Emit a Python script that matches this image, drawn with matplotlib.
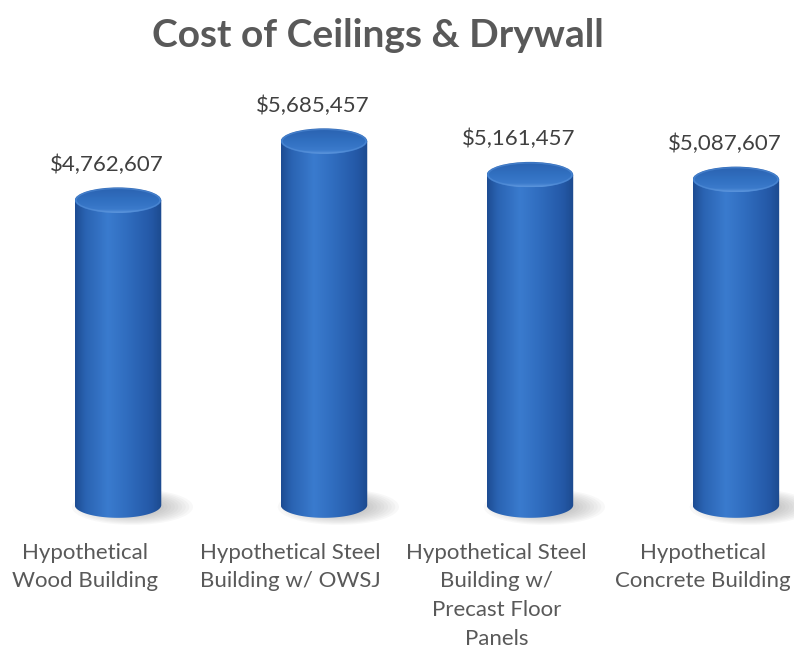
import numpy as np
import matplotlib.pyplot as plt
from matplotlib.path import Path
from matplotlib.patches import PathPatch, Ellipse
from matplotlib.colors import LinearSegmentedColormap

categories = ["Hypothetical\nWood Building",
              "Hypothetical Steel\nBuilding w/ OWSJ",
              "Hypothetical Steel\nBuilding w/\nPrecast Floor\nPanels",
              "Hypothetical\nConcrete Building"]
costs = [4762607, 5685457, 5161457, 5087607]
value_labels = ["$4,762,607", "$5,685,457", "$5,161,457", "$5,087,607"]

plt.rcParams['font.family'] = ['Lato', 'DejaVu Sans']
grey = '#595959'

side_cmap = LinearSegmentedColormap.from_list(
    'side', [(0.0, '#1d4c92'), (0.12, '#2a63b2'), (0.38, '#3a7bce'),
             (0.6, '#306dbf'), (0.88, '#2458a6'), (1.0, '#1c4a8e')])
top_cmap = LinearSegmentedColormap.from_list(
    'top', [(0.0, '#2a62b0'), (0.55, '#3271c2'), (0.85, '#3b7acb'),
            (1.0, '#5a94dc')])

fig = plt.figure(figsize=(7.94, 6.51), dpi=100)
ax = fig.add_axes([0, 0, 1, 1])
ax.set_xlim(-0.573, 3.282)
ax.set_ylim(-2.281e6, 7.891e6)
ax.axis('off')

w = 0.42          # cylinder width (x units)
eh = 0.40e6       # ellipse height (y units)
grad = np.linspace(0, 1, 256).reshape(1, -1)

for i, v in enumerate(costs):
    x0, x1 = i - w / 2, i + w / 2

    # soft shadow at the base
    for k in range(10):
        s = 1.0 - k * 0.06
        ax.add_patch(Ellipse((i + 0.07, -0.03e6), w * 1.4 * s, eh * 1.4 * s,
                             facecolor='#7f7f7f', edgecolor='none',
                             alpha=0.05, zorder=1))

    # side of the cylinder: rectangle + lower half ellipse
    t = np.linspace(np.pi, 2 * np.pi, 60)
    pts = np.column_stack([i + w / 2 * np.cos(t), eh / 2 * np.sin(t)])
    pts = np.vstack([pts, [x1, v], [x0, v], pts[:1]])
    side = PathPatch(Path(pts, closed=True), facecolor='none',
                     edgecolor='none')
    ax.add_patch(side)
    im = ax.imshow(grad, cmap=side_cmap, aspect='auto',
                   extent=[x0, x1, -eh, v], zorder=2)
    im.set_clip_path(side)

    # top of the cylinder
    top = Ellipse((i, v), w, eh, facecolor='none', edgecolor='none')
    ax.add_patch(top)
    im2 = ax.imshow(grad.T, cmap=top_cmap, aspect='auto', origin='lower',
                    extent=[x0, x1, v + eh / 2, v - eh / 2], zorder=3)
    im2.set_clip_path(top)
    ax.add_patch(Ellipse((i, v), w * 0.97, eh * 0.92, facecolor='none',
                         edgecolor='#5a94dc', lw=1.0, alpha=0.5, zorder=4))

    ax.annotate(value_labels[i], (i, v + eh / 2), xytext=(-8, 9),
                textcoords='offset points', ha='center', va='bottom',
                fontsize=16, color='#404040')
    ax.annotate(categories[i], (i, 0), xytext=(-24, -27),
                textcoords='offset points', ha='center', va='top',
                fontsize=16, color=grey, linespacing=1.55)

fig.text(0.476, 0.972, "Cost of Ceilings & Drywall", ha='center', va='top',
         fontsize=28, fontweight='bold', color=grey)

fig.savefig('out.png', dpi=100)
